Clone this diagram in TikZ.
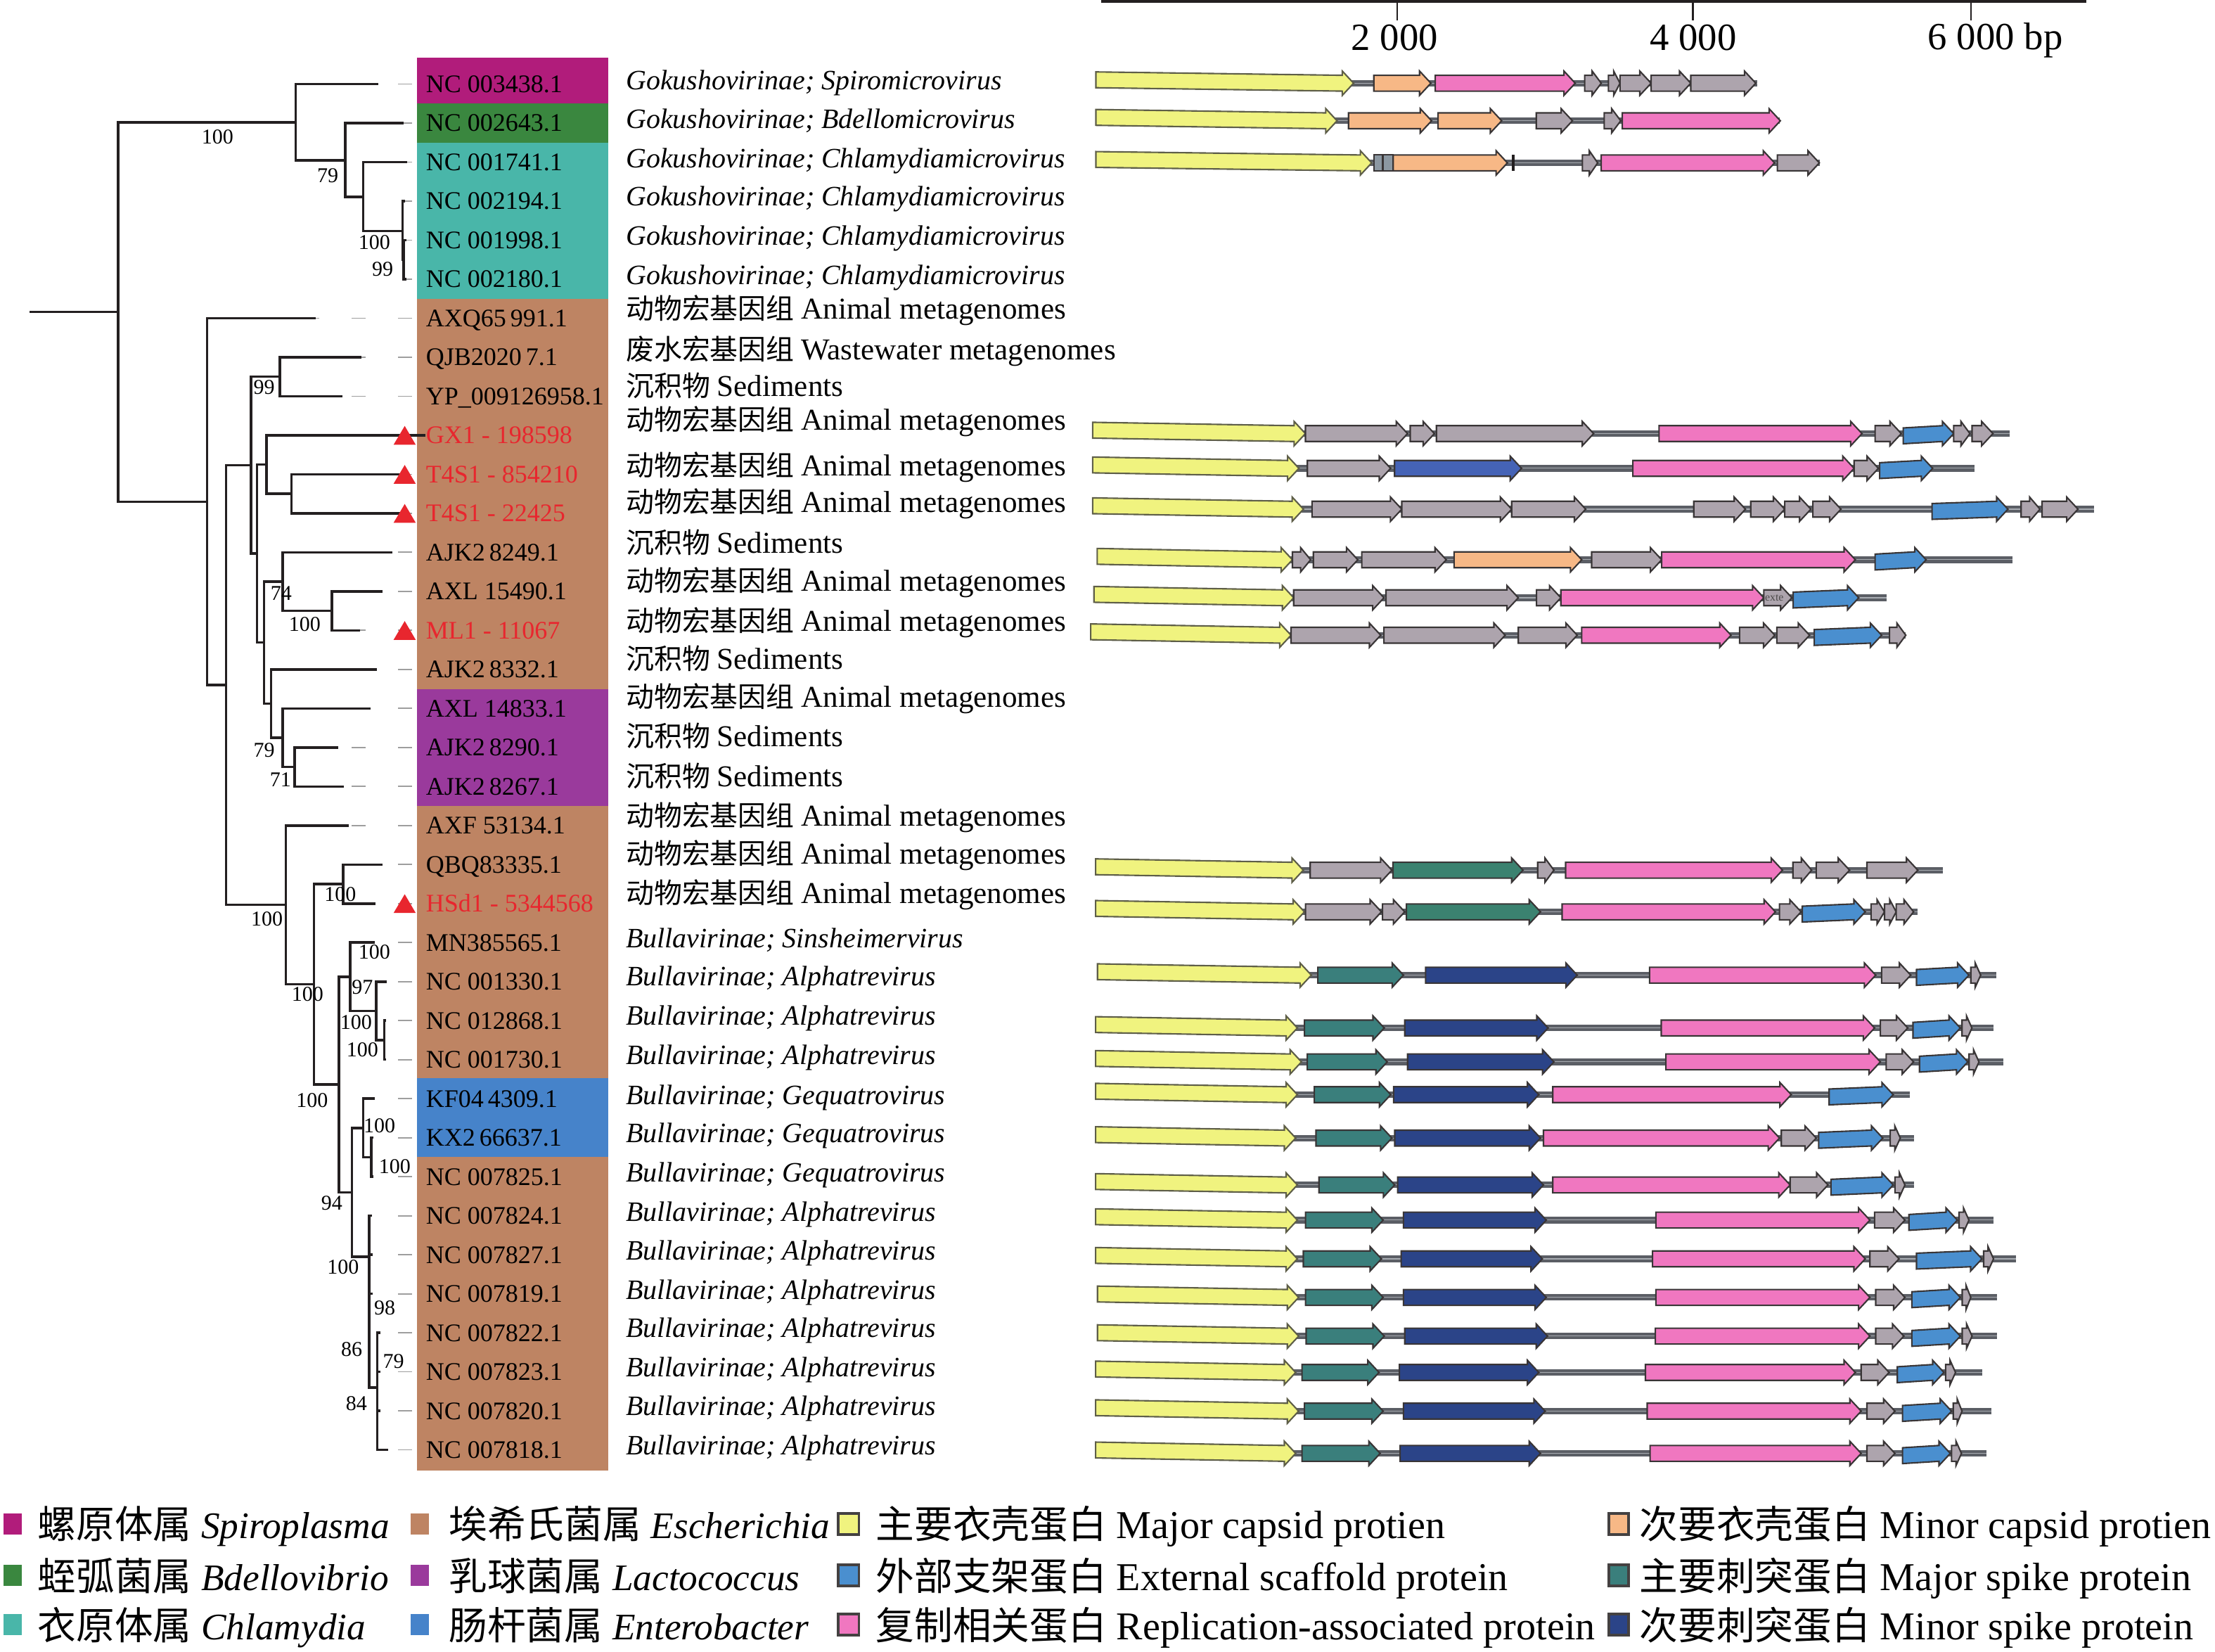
\documentclass[tikz,border=0pt]{standalone}
\usepackage{fontspec}
\setmainfont{Liberation Serif}
\newfontfamily\cjk{Noto Sans CJK SC}
\definecolor{cMag}{HTML}{B11C7B}
\definecolor{cGrn}{HTML}{3A873F}
\definecolor{cTeal}{HTML}{49B6A9}
\definecolor{cBrn}{HTML}{BE8463}
\definecolor{cPur}{HTML}{9A3A9C}
\definecolor{cBlu}{HTML}{4683CA}
\definecolor{cRed}{HTML}{E8262E}
\definecolor{gY}{HTML}{F0F37F}
\definecolor{gG}{HTML}{ADA4AD}
\definecolor{gP}{HTML}{F077C0}
\definecolor{gO}{HTML}{F7B886}
\definecolor{gB}{HTML}{4A8FCF}
\definecolor{gR}{HTML}{4563B6}
\definecolor{gE}{HTML}{3B8270}
\definecolor{gT}{HTML}{3A7F7C}
\definecolor{gN}{HTML}{2B4488}
\definecolor{gS}{HTML}{8C98A2}
\definecolor{bbc}{HTML}{5B5E65}
\definecolor{bbl}{HTML}{A9ADB3}
\definecolor{ink}{HTML}{231F20}
\definecolor{yedge}{HTML}{5E5E48}
\tikzset{
 tree/.style={line width=1pt, draw=ink, line join=miter},
 leader/.style={draw=black!38, line width=0.5pt, dash pattern=on 5.67pt off 12.93pt},
 gene/.style={draw=ink!90, line width=0.6pt, line join=miter},
 bbone/.style={draw=bbc, line width=2.6pt},
 bbhi/.style={draw=bbl, line width=0.3pt},
 lab/.style={anchor=base west, inner sep=0pt, font=\fontsize{10.2}{12}\selectfont},
 desc/.style={anchor=base west, inner sep=0pt, font=\fontsize{11.3}{13}\selectfont},
 bs/.style={inner sep=0pt, font=\fontsize{8.5}{10}\selectfont},
 leg/.style={anchor=base west, inner sep=0pt, font=\fontsize{15.5}{18}\selectfont},
 sclab/.style={inner sep=0pt, font=\fontsize{15.5}{18}\selectfont},
 legbox/.style={draw=ink!85, line width=1.1pt},
 redtri/.style={fill=cRed},
}
\newcommand\ga[5][]{%
 \pgfmathsetmacro\gahl{min(8,0.55*(#3-#2))}%
 \pgfmathsetmacro\gaxh{#3-\gahl}%
 \filldraw[gene,fill=#4,#1] (#2,{\ry-5.6+(#5)}) -- (\gaxh,{\ry-5.6}) -- (\gaxh,{\ry-8.6}) -- (#3,\ry) -- (\gaxh,{\ry+8.6}) -- (\gaxh,{\ry+5.6}) -- (#2,{\ry+5.6+(#5)}) -- cycle;}
\newcommand\genY[2]{\ga[draw=yedge]{#1}{#2}{gY}{-2.4}}
\newcommand\genG[2]{\ga{#1}{#2}{gG}{0}}
\newcommand\genP[2]{\ga{#1}{#2}{gP}{0}}
\newcommand\genO[2]{\ga{#1}{#2}{gO}{0}}
\newcommand\genB[2]{\ga{#1}{#2}{gB}{1.6}}
\newcommand\genR[2]{\ga{#1}{#2}{gR}{0}}
\newcommand\genE[2]{\ga{#1}{#2}{gE}{0}}
\newcommand\genT[2]{\ga{#1}{#2}{gT}{0}}
\newcommand\genN[2]{\ga{#1}{#2}{gN}{0}}
\newcommand\bb[2]{\draw[bbone] (#1,\ry) -- (#2,\ry); \draw[bbhi] (#1,\ry) -- (#2,\ry);}
\newcommand\lbl[3]{\node[lab] (n#1) at (301.2,{#2+5.95}) {#3};}
\newcommand\dsc[3]{\node[desc] (d#1) at (442.8,{#2+6.6}) {#3};}
\newcommand\up[1]{{\fontsize{12.2}{14}\selectfont #1}}
\newcommand\anim{{\cjk 动物宏基因组} \up{Animal metagenomes}}
\newcommand\sedi{{\cjk 沉积物} \up{Sediments}}
\newcommand\lup[1]{{\fontsize{15.9}{18}\selectfont #1}}
\newcommand\lit[1]{{\fontsize{15.1}{18}\selectfont\itshape #1}}
\begin{document}
\begin{tikzpicture}[x=0.02cm,y=-0.02cm]
\useasboundingbox (0,0) rectangle (1568,1169);
% ---------- colour strip ----------
\fill[cMag] (295.3,40.7) rectangle (430.6,73.3);
\fill[cGrn] (295.3,73.3) rectangle (430.6,100.9);
\fill[cTeal] (295.3,100.9) rectangle (430.6,211.4);
\fill[cBrn] (295.3,211.4) rectangle (430.6,487.6);
\fill[cPur] (295.3,487.6) rectangle (430.6,570.5);
\fill[cBrn] (295.3,570.5) rectangle (430.6,763.3);
\fill[cBlu] (295.3,763.3) rectangle (430.6,818.6);
\fill[cBrn] (295.3,818.6) rectangle (430.6,1041);
% ---------- tree coordinates ----------
\coordinate (t1) at (267.7,59.5);
\coordinate (t2) at (285.7,87.12);
\coordinate (t3) at (288,114.74);
\coordinate (t4) at (286.5,142.36);
\coordinate (t5) at (287.5,169.98);
\coordinate (t6) at (287.5,197.6);
\coordinate (t7) at (223.7,225.22);
\coordinate (t8) at (255.7,252.84);
\coordinate (t9) at (242.3,280.46);
\coordinate (t10) at (301.4,308.08);
\coordinate (t11) at (285.7,335.7);
\coordinate (t12) at (285.7,363.32);
\coordinate (t13) at (277.7,390.94);
\coordinate (t14) at (270.9,418.56);
\coordinate (t15) at (254.9,446.18);
\coordinate (t16) at (267,473.8);
\coordinate (t17) at (262.3,501.42);
\coordinate (t18) at (239.4,529.04);
\coordinate (t19) at (243.4,556.66);
\coordinate (t20) at (247.1,584.28);
\coordinate (t21) at (270.9,611.9);
\coordinate (t22) at (265.7,639.52);
\coordinate (t23) at (265.1,667.14);
\coordinate (t24) at (273.7,694.76);
\coordinate (t25) at (273.5,722.38);
\coordinate (t26) at (273.5,750.0);
\coordinate (t27) at (265.1,777.62);
\coordinate (t28) at (264.2,805.24);
\coordinate (t29) at (264.2,832.86);
\coordinate (t30) at (263.4,860.48);
\coordinate (t31) at (263.6,888.1);
\coordinate (t32) at (263.6,915.72);
\coordinate (t33) at (269.2,943.34);
\coordinate (t34) at (269.2,970.96);
\coordinate (t35) at (269.2,998.58);
\coordinate (t36) at (274.9,1026.2);
\coordinate (R0) at (21,220.8);
\coordinate (R) at (83.7,220.8);
\coordinate (B) at (209.4,86.5);
\coordinate (C) at (244.3,113.5);
\coordinate (D) at (257.1,139.3);
\coordinate (E) at (284.9,163.5);
\coordinate (F) at (285.7,183.8);
\coordinate (H) at (146.6,355.1);
\coordinate (I) at (160,484.9);
\coordinate (K) at (177.7,329.2);
\coordinate (J) at (198,266.65);
\coordinate (L) at (182,391.8);
\coordinate (O) at (188.6,328.8);
\coordinate (P) at (206.3,349.5);
\coordinate (M2) at (187,454.8);
\coordinate (M) at (200,411.7);
\coordinate (S) at (234.9,432.4);
\coordinate (N) at (192,498);
\coordinate (T) at (200,522.1);
\coordinate (U) at (208.6,542.85);
\coordinate (Q) at (202.3,640.5);
\coordinate (V) at (222.3,696.7);
\coordinate (W) at (242.9,625.7);
\coordinate (X) at (240,767.6);
\coordinate (Y) at (248,691.3);
\coordinate (Y2) at (266.3,715.5);
\coordinate (Y3) at (272,736.2);
\coordinate (Z) at (249.1,843.9);
\coordinate (Z1) at (257.1,798.3);
\coordinate (Z3) at (262.9,819.05);
\coordinate (Z2) at (261.4,889.4);
\coordinate (Z6) at (267.1,982);
% ---------- leaders ----------
\foreach \i/\yy in {1/59.5,2/87.12,3/114.74,4/142.36,5/169.98,6/197.6,7/225.22,8/252.84,9/280.46,11/335.7,12/363.32,13/390.94,14/418.56,15/446.18,16/473.8,17/501.42,18/529.04,19/556.66,20/584.28,21/611.9,22/639.52,23/667.14,24/694.76,25/722.38,26/750.0,27/777.62,28/805.24,29/832.86,30/860.48,31/888.1,32/915.72,33/943.34,34/970.96,35/998.58,36/1026.2}
 {\coordinate (s\i) at (291.5,\yy); \draw[leader] (s\i) -- (t\i);}
% ---------- tree ----------
\draw[tree] (R0) -- (R) (R) |- (B) (R) |- (H)
 (B) |- (t1) (B) |- (C) (C) |- (t2) (C) |- (D) (D) |- (t3) (D) |- (E)
 (E) |- (t4) (E) |- (F) (F) |- (t5) (F) |- (t6)
 (H) |- (t7) (H) |- (I) (I) |- (K) (I) |- (Q)
 (K) |- (J) (K) |- (L) (J) |- (t8) (J) |- (t9)
 (L) |- (O) (L) |- (M2) (O) |- (t10) (O) |- (P) (P) |- (t11) (P) |- (t12)
 (M2) |- (M) (M2) |- (N) (M) |- (t13) (M) |- (S) (S) |- (t14) (S) |- (t15)
 (N) |- (t16) (N) |- (T) (T) |- (t17) (T) |- (U) (U) |- (t18) (U) |- (t19)
 (Q) |- (t20) (Q) |- (V) (V) |- (W) (V) |- (X) (W) |- (t21) (W) |- (t22)
 (X) |- (Y) (X) |- (Z) (Y) |- (t23) (Y) |- (Y2) (Y2) |- (t24) (Y2) |- (Y3)
 (Y3) |- (t25) (Y3) |- (t26)
 (Z) |- (Z1) (Z) |- (Z2) (Z1) |- (t27) (Z1) |- (Z3) (Z3) |- (t28) (Z3) |- (t29)
 (Z2) |- (t30) (Z2) |- (t31) (Z2) |- (t32) (Z2) |- (Z6)
 (Z6) |- (t33) (Z6) |- (t34) (Z6) |- (t35) (Z6) |- (t36);
% bootstrap values
\node[bs] (b1) at (154,97) {100};
\node[bs] (b2) at (232,124.4) {79};
\node[bs] (b3) at (265,171.7) {100};
\node[bs] (b4) at (270.9,190.5) {99};
\node[bs] (b5) at (187,274) {99};
\node[bs] (b6) at (199,420) {74};
\node[bs] (b7) at (215.7,442) {100};
\node[bs] (b8) at (187,531) {79};
\node[bs] (b9) at (198.6,551.7) {71};
\node[bs] (b10) at (189,650.4) {100};
\node[bs] (b11) at (217.7,703.8) {100};
\node[bs] (b12) at (240.9,633) {100};
\node[bs] (b13) at (265,673.6) {100};
\node[bs] (b14) at (256.6,698.5) {97};
\node[bs] (b15) at (252,723.7) {100};
\node[bs] (b16) at (256.6,743) {100};
\node[bs] (b17) at (221,779) {100};
\node[bs] (b18) at (268.6,797) {100};
\node[bs] (b19) at (279.4,825.4) {100};
\node[bs] (b20) at (234.9,851.5) {94};
\node[bs] (b21) at (242.9,897) {100};
\node[bs] (b22) at (272.3,925.8) {98};
\node[bs] (b23) at (249,955) {86};
\node[bs] (b24) at (278.6,963.5) {79};
\node[bs] (b25) at (252.3,993.5) {84};
% red triangles
\foreach \yy/\nm in {308.08/g1,335.7/g2,363.32/g3,446.18/g4,639.52/g5}
 {\fill[redtri] (278.6,{\yy+6.7}) -- (294.3,{\yy+6.7}) -- (286.5,{\yy-6.6}) -- cycle;}
% ---------- labels ----------
\lbl{1}{59.5}{NC 003438.1}
\lbl{2}{87.12}{NC 002643.1}
\lbl{3}{114.74}{NC 001741.1}
\lbl{4}{142.36}{NC 002194.1}
\lbl{5}{169.98}{NC 001998.1}
\lbl{6}{197.6}{NC 002180.1}
\lbl{7}{225.22}{AXQ65\,991.1}
\lbl{8}{252.84}{QJB2020\,7.1}
\lbl{9}{280.46}{YP\_009126958.1}
\lbl{10}{308.08}{\color{cRed}GX1 - 198598}
\lbl{11}{335.7}{\color{cRed}T4S1 - 854210}
\lbl{12}{363.32}{\color{cRed}T4S1 - 22425}
\lbl{13}{390.94}{AJK2\,8249.1}
\lbl{14}{418.56}{AXL 15490.1}
\lbl{15}{446.18}{\color{cRed}ML1 - 11067}
\lbl{16}{473.8}{AJK2\,8332.1}
\lbl{17}{501.42}{AXL 14833.1}
\lbl{18}{529.04}{AJK2\,8290.1}
\lbl{19}{556.66}{AJK2\,8267.1}
\lbl{20}{584.28}{AXF 53134.1}
\lbl{21}{611.9}{QBQ83335.1}
\lbl{22}{639.52}{\color{cRed}HSd1 - 5344568}
\lbl{23}{667.14}{MN385565.1}
\lbl{24}{694.76}{NC 001330.1}
\lbl{25}{722.38}{NC 012868.1}
\lbl{26}{750.0}{NC 001730.1}
\lbl{27}{777.62}{KF04\,4309.1}
\lbl{28}{805.24}{KX2\,66637.1}
\lbl{29}{832.86}{NC 007825.1}
\lbl{30}{860.48}{NC 007824.1}
\lbl{31}{888.1}{NC 007827.1}
\lbl{32}{915.72}{NC 007819.1}
\lbl{33}{943.34}{NC 007822.1}
\lbl{34}{970.96}{NC 007823.1}
\lbl{35}{998.58}{NC 007820.1}
\lbl{36}{1026.2}{NC 007818.1}
% ---------- descriptions ----------
\dsc{1}{57}{\textit{Gokushovirinae; Spiromicrovirus}}
\dsc{2}{84}{\textit{Gokushovirinae; Bdellomicrovirus}}
\dsc{3}{112}{\textit{Gokushovirinae; Chlamydiamicrovirus}}
\dsc{4}{139}{\textit{Gokushovirinae; Chlamydiamicrovirus}}
\dsc{5}{167}{\textit{Gokushovirinae; Chlamydiamicrovirus}}
\dsc{6}{195}{\textit{Gokushovirinae; Chlamydiamicrovirus}}
\dsc{7}{219}{\anim}
\dsc{8}{248}{{\cjk 废水宏基因组} \up{Wastewater metagenomes}}
\dsc{9}{274}{\sedi}
\dsc{10}{298}{\anim}
\dsc{11}{330}{\anim}
\dsc{12}{356}{\anim}
\dsc{13}{385}{\sedi}
\dsc{14}{412}{\anim}
\dsc{15}{440}{\anim}
\dsc{16}{467}{\sedi}
\dsc{17}{494}{\anim}
\dsc{18}{522}{\sedi}
\dsc{19}{550}{\sedi}
\dsc{20}{578}{\anim}
\dsc{21}{605}{\anim}
\dsc{22}{633}{\anim}
\dsc{23}{664}{\textit{Bullavirinae; Sinsheimervirus}}
\dsc{24}{691}{\textit{Bullavirinae; Alphatrevirus}}
\dsc{25}{719}{\textit{Bullavirinae; Alphatrevirus}}
\dsc{26}{747}{\textit{Bullavirinae; Alphatrevirus}}
\dsc{27}{775}{\textit{Bullavirinae; Gequatrovirus}}
\dsc{28}{802}{\textit{Bullavirinae; Gequatrovirus}}
\dsc{29}{830}{\textit{Bullavirinae; Gequatrovirus}}
\dsc{30}{858}{\textit{Bullavirinae; Alphatrevirus}}
\dsc{31}{885}{\textit{Bullavirinae; Alphatrevirus}}
\dsc{32}{913}{\textit{Bullavirinae; Alphatrevirus}}
\dsc{33}{940}{\textit{Bullavirinae; Alphatrevirus}}
\dsc{34}{968}{\textit{Bullavirinae; Alphatrevirus}}
\dsc{35}{995}{\textit{Bullavirinae; Alphatrevirus}}
\dsc{36}{1023}{\textit{Bullavirinae; Alphatrevirus}}
% ---------- scale bar ----------
\fill[ink] (779.4,0) rectangle (1477,2.2);
\foreach \xx in {988.9,1198.4,1395.2} {\draw[ink,line width=0.6pt] (\xx,2) -- (\xx,14.6);}
\node[sclab,anchor=base] (k2) at (987.3,35.7) {2 000};
\node[sclab,anchor=base] (k4) at (1198.6,35.7) {4 000};
\node[sclab,anchor=base west] (k6) at (1364.5,35) {6 000 bp};
% ---------- gene maps ----------
\def\ry{58.9}
\bb{776}{1244}
\genY{775.8}{958.2}\genO{972.5}{1012.9}\genP{1016}{1115.1}\genG{1121.8}{1133.5}\genG{1138.6}{1146.8}\genG{1146.8}{1168.8}\genG{1168.8}{1196.9}\genG{1196.9}{1242.9}
\def\ry{85.5}
\bb{776}{1260}
\genY{775.8}{946.5}\genO{954.6}{1013.4}\genO{1018}{1063}\genG{1087.5}{1113.1}\genG{1135.6}{1147.3}\genP{1148.4}{1260.3}
\def\ry{115.3}
\bb{776}{1288}
\genY{775.8}{971}
\filldraw[gene,fill=gS] (972.5,{\ry-5.6}) rectangle (978.7,{\ry+5.6});
\filldraw[gene,fill=gS] (979.2,{\ry-5.6}) rectangle (986.3,{\ry+5.6});
\genO{986.3}{1067.1}
\draw[ink,line width=0.9pt] (1071.2,{\ry-5.6}) -- (1071.2,{\ry+5.6});
\genG{1120.2}{1131}\genP{1133.5}{1256.2}\genG{1258.2}{1287.9}
\def\ry{306.9}
\bb{773.5}{1422.4}
\genY{773.5}{924.1}\genG{924.1}{996.4}\genG{998.3}{1015.4}\genG{1016.8}{1128.1}\genP{1174.4}{1318.1}\genG{1327.4}{1345.9}\genB{1347.3}{1383}\genG{1383}{1394.5}\genG{1396}{1410.8}
\def\ry{331.5}
\bb{773.5}{1397.8}
\genY{773.5}{919.5}\genG{925.5}{984.4}\genR{987.2}{1077.1}\genP{1155.9}{1312.5}\genG{1312.5}{1329.7}\genB{1330.6}{1368.1}
\def\ry{360.4}
\bb{773.5}{1482.6}
\genY{773.5}{922.7}\genG{928.8}{992.3}\genG{992.3}{1070.1}\genG{1070.1}{1122.5}\genG{1199}{1235.6}\genG{1239.3}{1263.4}\genG{1263.4}{1281.9}\genG{1283.3}{1303.2}\genB{1367.7}{1421.4}\genG{1430.7}{1444.1}\genG{1445.5}{1471}
\def\ry{396.2}
\bb{776.7}{1424.7}
\genY{776.7}{914.9}\genG{914.9}{927.8}\genG{929.7}{961.2}\genG{964}{1023.8}\genO{1029.3}{1119.7}\genG{1126.7}{1176.3}\genP{1176.3}{1313.4}\genB{1327.4}{1363.5}
\def\ry{423.1}
\bb{774.4}{1335.7}
\genY{774.4}{915.8}\genG{915.8}{979.7}\genG{981.1}{1074.8}\genG{1087.7}{1104.9}\genP{1104.9}{1248.6}\genG{1248.6}{1268.5}\genB{1269.4}{1315.8}
\node[inner sep=0pt,font=\fontsize{4.5}{5}\selectfont,text=ink!80] (exte) at (1256,423.1) {exte};
\def\ry{449.6}
\bb{772.1}{1349}
\genY{772.1}{913.9}\genG{913.9}{977.4}\genG{979.7}{1065.5}\genG{1074.8}{1116.5}\genP{1119.7}{1225.4}\genG{1231.4}{1256.4}\genG{1257.8}{1281}\genB{1284.3}{1332}\genG{1337.6}{1349.1}
\def\ry{615.9}
\bb{775.6}{1375.3}
\genY{775.6}{922.6}\genG{927.5}{985.3}\genE{986.1}{1078.1}\genG{1088.5}{1100}\genP{1108.3}{1261.8}\genG{1269.2}{1282.4}\genG{1285.7}{1309.3}\genG{1321.6}{1357.6}
\def\ry{645.4}
\bb{775.6}{1357.6}
\genY{775.6}{923.4}\genG{924.2}{977.9}\genG{978.7}{994.4}\genE{995.6}{1090.5}\genP{1105.8}{1256.8}\genG{1259.7}{1275}\genB{1275.8}{1320.4}\genG{1324.5}{1334}\genG{1334}{1342.3}\genG{1342.3}{1354.6}
\def\ry{690.2}
\bb{776.9}{1413}
\genY{776.9}{928.3}\genT{932.9}{993.5}\genN{1009.2}{1116.5}\genP{1167.7}{1327.8}\genG{1332}{1352.6}\genB{1356.7}{1393.8}\genG{1395.1}{1402.1}
\def\ry{727.6}
\bb{775.6}{1411.2}
\genY{775.6}{918.4}\genT{923.4}{979.9}\genN{994.4}{1095.9}\genP{1176}{1327}\genG{1331.1}{1350.5}\genB{1354.2}{1387.7}\genG{1388.9}{1395.9}
\def\ry{751.6}
\bb{775.6}{1418}
\genY{775.6}{921.3}\genT{925.4}{982}\genN{996.4}{1100}\genP{1179.3}{1331.1}\genG{1335.2}{1354.6}\genB{1358.8}{1393}\genG{1393.9}{1400.9}
\def\ry{774.8}
\bb{775.6}{1351.8}
\genY{775.6}{918.4}\genT{930.4}{984.5}\genN{986.5}{1089.3}\genP{1099.2}{1268}\genB{1294.8}{1340.2}
\def\ry{805.5}
\bb{775.6}{1354.7}
\genY{775.6}{917.2}\genT{931.6}{985.3}\genN{987.3}{1090.5}\genP{1092.6}{1259.7}\genG{1261}{1285.7}\genB{1287.4}{1332.8}\genG{1338.1}{1345.2}
\def\ry{838.7}
\bb{775.6}{1354.7}
\genY{775.6}{918.4}\genT{933.7}{987.3}\genN{989.4}{1092.6}\genP{1099.2}{1267.2}\genG{1267.2}{1294}\genB{1296.1}{1340.2}\genG{1341.4}{1348.5}
\def\ry{863.6}
\bb{775.6}{1411.2}
\genY{775.6}{918.4}\genT{924.2}{979.1}\genN{993.5}{1094.6}\genP{1172.2}{1323.7}\genG{1327}{1348.5}\genB{1351.3}{1385.6}\genG{1386.8}{1393.8}
\def\ry{891}
\bb{775.6}{1427}
\genY{775.6}{918.4}\genT{922.6}{977.9}\genN{991.9}{1091.8}\genP{1169.8}{1320.4}\genG{1323.7}{1344.3}\genB{1356.7}{1403}\genG{1404.2}{1411.2}
\def\ry{918.3}
\bb{776.9}{1413.7}
\genY{776.9}{919.3}\genT{924.2}{979.1}\genN{993.5}{1094.6}\genP{1172.2}{1323.7}\genG{1327.8}{1348.5}\genB{1353.4}{1387.7}\genG{1389}{1395.1}
\def\ry{945.7}
\bb{776.9}{1413.7}
\genY{776.9}{919.3}\genT{924.6}{979.9}\genN{994.4}{1095.5}\genP{1171.8}{1323.7}\genG{1327.8}{1347.7}\genB{1353.4}{1387.7}\genG{1389}{1396}
\def\ry{971.4}
\bb{775.6}{1403.3}
\genY{775.6}{917.2}\genT{921.7}{976.2}\genN{990.6}{1089.3}\genP{1164.8}{1313.4}\genG{1317.5}{1337.3}\genB{1343.1}{1376.1}\genG{1377.3}{1384.3}
\def\ry{998.8}
\bb{775.6}{1409.5}
\genY{775.6}{919.3}\genT{923.4}{979.1}\genN{993.5}{1093.8}\genP{1166}{1317.5}\genG{1321.6}{1341.4}\genB{1346.8}{1381.5}\genG{1382.7}{1388.9}
\def\ry{1028.7}
\bb{775.6}{1406.2}
\genY{775.6}{917.2}\genT{921.7}{977}\genN{991.1}{1090.5}\genP{1168.1}{1317.5}\genG{1321.6}{1341.4}\genB{1346.8}{1380.6}\genG{1381.5}{1388.5}
% ---------- legend ----------
\fill[cMag] (2.5,1071) rectangle (15.2,1086);
\fill[cGrn] (2.5,1107.5) rectangle (15.2,1122.5);
\fill[cTeal] (2.5,1142.5) rectangle (15.2,1157.5);
\fill[cBrn] (290.6,1071) rectangle (303.8,1086);
\fill[cPur] (290.6,1107.5) rectangle (303.8,1122.5);
\fill[cBlu] (290.6,1142.5) rectangle (303.8,1157.5);
\filldraw[legbox,fill=gY] (593.4,1071) rectangle (608,1086);
\filldraw[legbox,fill=gB] (593.4,1107.5) rectangle (608,1122.5);
\filldraw[legbox,fill=gP] (593.4,1142.5) rectangle (608,1157.5);
\filldraw[legbox,fill=gO] (1138.9,1071) rectangle (1152.8,1086);
\filldraw[legbox,fill=gT] (1138.9,1107.5) rectangle (1152.8,1122.5);
\filldraw[legbox,fill=gN] (1138.9,1142.5) rectangle (1152.8,1157.5);
\node[leg] (L1) at (26.4,1089) {{\cjk 螺原体属} \lit{Spiroplasma}};
\node[leg] (L2) at (26.4,1125.5) {{\cjk 蛭弧菌属} \lit{Bdellovibrio}};
\node[leg] (L3) at (26.4,1160.5) {{\cjk 衣原体属} \lit{Chlamydia}};
\node[leg] (L4) at (317.5,1089) {{\cjk 埃希氏菌属} \lit{Escherichia}};
\node[leg] (L5) at (317.5,1125.5) {{\cjk 乳球菌属} \lit{Lactococcus}};
\node[leg] (L6) at (317.5,1160.5) {{\cjk 肠杆菌属} \lit{Enterobacter}};
\node[leg] (L7) at (619.8,1089) {{\cjk 主要衣壳蛋白} \lup{Major capsid protien}};
\node[leg] (L8) at (619.8,1125.5) {{\cjk 外部支架蛋白} \lup{External scaffold protein}};
\node[leg] (L9) at (619.8,1160.5) {{\cjk 复制相关蛋白} \lup{Replication-associated protein}};
\node[leg] (L10) at (1160.3,1089) {{\cjk 次要衣壳蛋白} \lup{Minor capsid protien}};
\node[leg] (L11) at (1160.3,1125.5) {{\cjk 主要刺突蛋白} \lup{Major spike protein}};
\node[leg] (L12) at (1160.3,1160.5) {{\cjk 次要刺突蛋白} \lup{Minor spike protein}};
\end{tikzpicture}
\end{document}
